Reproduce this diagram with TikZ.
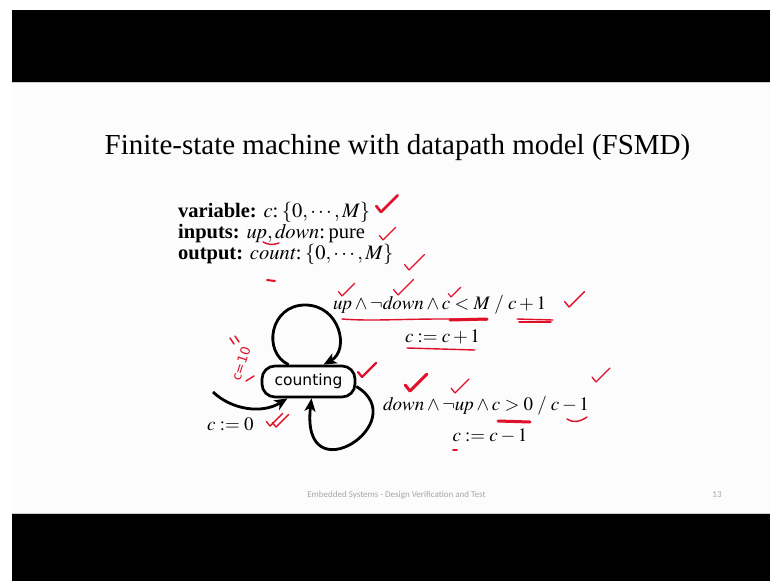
\documentclass[tikz,border=0pt]{standalone}
\usepackage{mathptmx}
\usepackage{fontspec}
\setmainfont{Liberation Serif}
\newfontfamily\nodefont{DejaVu Sans}
\newfontfamily\footfont{Carlito}
\usetikzlibrary{arrows.meta,calc}
\definecolor{slidebg}{HTML}{FCFCFC}
\definecolor{inkred}{HTML}{E0102A}
\tikzset{
  stateb/.style={draw, line width=2.7pt, rounded corners=13pt, minimum width=93pt, minimum height=31pt, inner sep=0pt, font=\nodefont\fontsize{15.5}{18}\selectfont},
  trans/.style={line width=2.8pt, -{Stealth[length=13pt,width=11pt,inset=3.5pt]}},
  bodytxt/.style={anchor=base west, inner sep=0pt, font=\fontsize{20.5}{24}\selectfont},
  lbl/.style={anchor=base west, inner sep=0pt, font=\fontsize{19}{22}\selectfont},
  redmk/.style={draw=inkred, line width=1.4pt, line cap=round, line join=round},
  redthick/.style={draw=inkred, line width=3pt, line cap=round},
}
\newcommand{\redcheck}[4]{\draw[redmk,line width=#4] (#1,#2) -- ++(-4*#3,-5*#3) (#1,#2) -- ++(14*#3,-14*#3);}
\begin{document}
\begin{tikzpicture}[x=1pt,y=-1pt]
\useasboundingbox (0,0) rectangle (770,581);
\fill[white] (0,0) rectangle (770,581);
\fill[black] (12,10) rectangle (770,82);
\fill[slidebg] (12,82) rectangle (770,514);
\fill[black] (12,514) rectangle (770,581);
\draw[gray!40, line width=0.8pt] (12,82.5) -- (770,82.5);
\draw[gray!40, line width=0.8pt] (12,513.5) -- (770,513.5);

% title
\node[anchor=base, inner sep=0pt, font=\fontsize{29}{34}\selectfont] (title) at (397.5,154) {Finite-state machine with datapath model (FSMD)};

% declarations
\node[bodytxt] (var) at (178,217) {\textbf{variable:} \(c\):\,\(\{0,\cdots,M\}\)};
\node[bodytxt] (inp) at (178,238) {\textbf{inputs:} \(\mathit{up},\mathit{down}\):\,pure};
\node[bodytxt] (outp) at (178,259) {\textbf{output:} \(\mathit{count}\):\,\(\{0,\cdots,M\}\)};

% state
\node[stateb] (cnt) at (308.5,381.5) {counting};

% transition labels
\node[lbl] (g1) at (333,309) {\(\mathit{up}\wedge\neg\mathit{down}\wedge c<M\;/\;c+1\)};
\node[lbl, anchor=base] (a1) at (442.5,342) {\(c := c+1\)};
\node[lbl] (g2) at (383,410) {\(\mathit{down}\wedge\neg\mathit{up}\wedge c>0\;/\;c-1\)};
\node[lbl, anchor=base] (a2) at (490,441) {\(c := c-1\)};
\node[lbl] (a0) at (207,430) {\(c := 0\)};

% transitions
\coordinate (init) at (213,392);
\draw[trans] (init) .. controls (232,410) and (262,414) .. ([xshift=-21pt]cnt.south);
\draw[trans] ([xshift=-20pt]cnt.north) .. controls (262,352) and (270,305) .. (305,305) .. controls (340,305) and (350,350) .. ([xshift=15pt]cnt.north);
\draw[trans] ([yshift=-5pt]cnt.east) .. controls (415,422) and (300,497) .. ([xshift=3pt]cnt.south);

% footer
\node[anchor=base, inner sep=0pt, text=gray!70, font=\footfont\fontsize{9}{11}\selectfont] (foot) at (396.5,497) {Embedded Systems - Design Verification and Test};
\node[anchor=base, inner sep=0pt, text=gray!70, font=\footfont\fontsize{9}{11}\selectfont] (pg) at (717,497) {13};

% red handwritten annotations
\redcheck{381}{212}{1.2}{2.6pt}
\redcheck{383}{240}{0.9}{1.2pt}
\redcheck{409}{270}{1.1}{1.3pt}
\redcheck{342}{296}{0.9}{1.2pt}
\redcheck{398}{295}{1.1}{1.2pt}
\redcheck{451}{297}{0.7}{1.1pt}
\redcheck{569}{307}{1.1}{1.4pt}
\redcheck{362}{377}{1.0}{2.2pt}
\redcheck{410}{391}{1.2}{3pt}
\redcheck{455}{393}{1.0}{1.3pt}
\redcheck{596}{382}{1.0}{1.3pt}
\redcheck{270}{426}{0.9}{1.4pt}
\redcheck{276}{427}{0.9}{1.4pt}
\draw[redmk] (263,242) .. controls (268,245) and (274,245) .. (279,243);
\draw[redmk,line width=2pt] (267,280) -- (275,281);
\draw[redmk] (342,319) .. controls (380,322) and (420,317) .. (487,320);
\draw[redthick] (450,320) -- (487,319);
\draw[redmk] (517,319) -- (553,320);
\draw[redmk] (519,322) -- (551,322);
\draw[redmk] (407,348) -- (475,350);
\draw[redthick] (498,421) -- (530,422);
\draw[redmk] (567,419) .. controls (572,423) and (580,422) .. (587,417);
\draw[redmk,line width=1.8pt] (453,450) -- (457,450);
\node[text=inkred, rotate=72, inner sep=0pt, font=\nodefont\fontsize{13}{15}\selectfont] (hw) at (241,364) {c=10};
\draw[redmk] (230,338) -- (234,344) (235,336) -- (239,342);
\draw[redmk] (246,381) -- (254,376);
\end{tikzpicture}
\end{document}
